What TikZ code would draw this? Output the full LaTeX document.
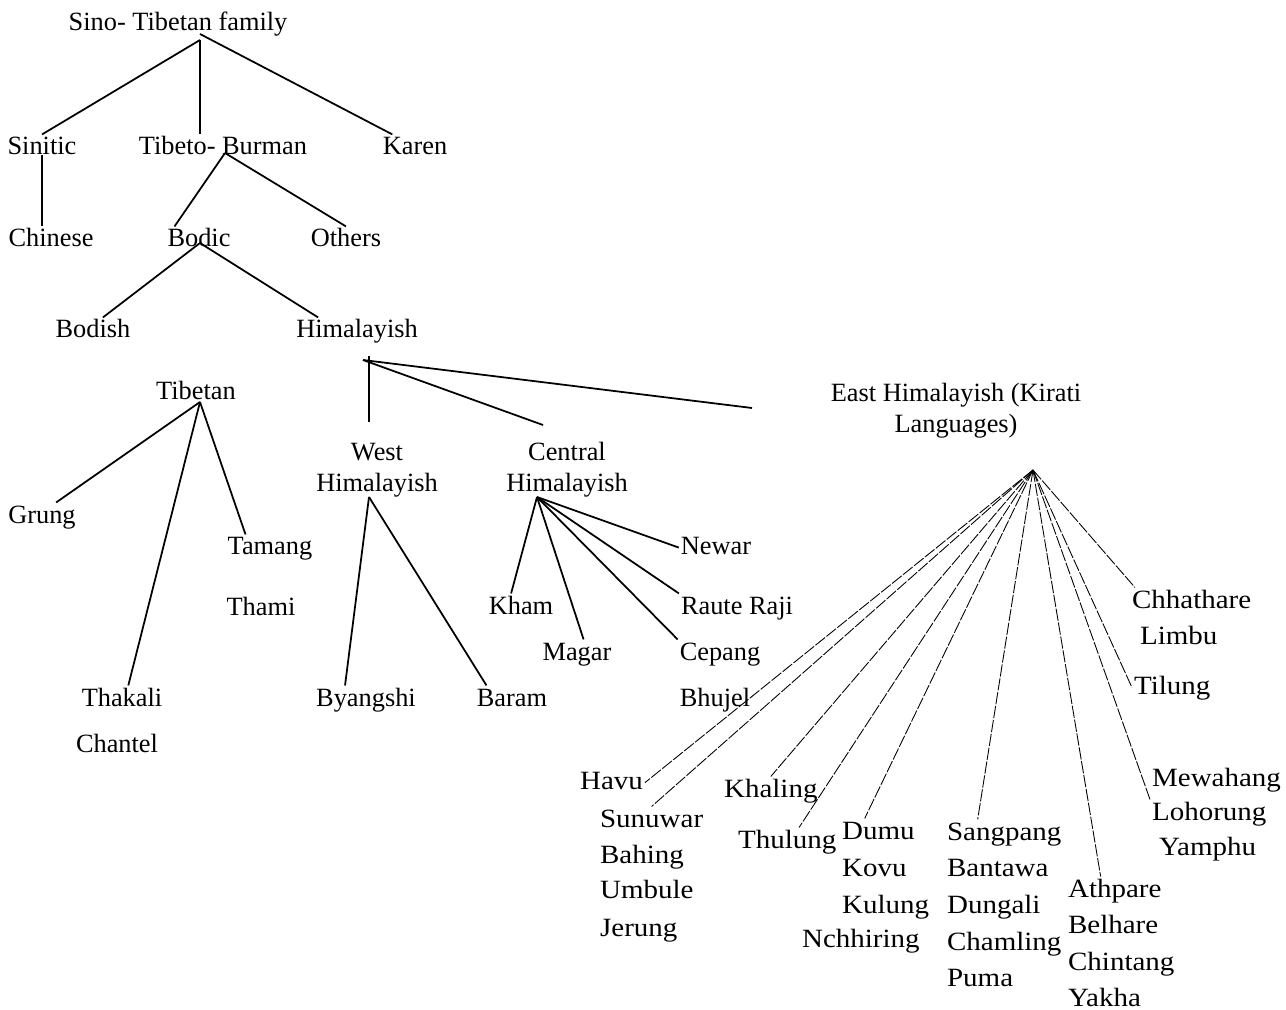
\documentclass[tikz,border=0pt]{standalone}
\usepackage{fontspec}
\setmainfont{Liberation Serif}
\newfontfamily\kiratifont[FakeStretch=1.1]{Liberation Serif}
\tikzstyle{lang}=[anchor=base, inner sep=1pt, font=\fontsize{15}{17.6}\selectfont, text height=10.5pt, text depth=3.2pt]
\tikzstyle{group}=[anchor=center, inner sep=1pt, align=center, font=\fontsize{15}{17.6}\selectfont]
\tikzstyle{kirati}=[anchor=base west, inner sep=1pt, font=\kiratifont\fontsize{15}{17.6}\selectfont, text height=10.5pt, text depth=3.2pt]
\tikzstyle{branch}=[line width=1pt]
\tikzstyle{fanline}=[line width=0.5pt, dash pattern=on 7pt off 1pt]

\begin{document}
\begin{tikzpicture}[x=0.02cm, y=-0.02cm]
		\useasboundingbox (0,0) rectangle (1286,1010);
		% upper tree
		\node(sinotibetan)[lang] at (178, 31) {Sino- Tibetan family};
		\node(sinitic)[lang] at (42, 155) {Sinitic};
		\node(tibetoburman)[lang] at (223, 155) {Tibeto- Burman};
		\node(karen)[lang] at (415, 155) {Karen};
		\node(chinese)[lang] at (51, 247) {Chinese};
		\node(bodic)[lang] at (199, 247) {Bodic};
		\node(others)[lang] at (346, 247) {Others};
		\node(bodish)[lang] at (93, 338) {Bodish};
		\node(himalayish)[lang] at (357, 338) {Himalayish};
		\node(tibetan)[lang] at (196, 399) {Tibetan};
		\node(westhim)[group] at (377, 470) {West\\Himalayish};
		\node(cenhim)[group] at (567, 470) {Central\\Himalayish};
		\node(easthim)[group] at (956, 411) {East Himalayish (Kirati\\Languages)};
		\node(grung)[lang] at (42, 523) {Grung};
		\node(tamang)[lang] at (270, 555) {Tamang};
		\node(thami)[lang] at (261, 615) {Thami};
		\node(thakali)[lang] at (122, 706) {Thakali};
		\node(chantel)[lang] at (117, 752) {Chantel};
		\node(byangshi)[lang] at (366, 706) {Byangshi};
		\node(baram)[lang] at (512, 706) {Baram};
		\node(kham)[lang] at (521, 614) {Kham};
		\node(magar)[lang] at (577, 660) {Magar};
		\node(newar)[lang] at (716, 554) {Newar};
		\node(rauteraji)[lang] at (737, 614) {Raute Raji};
		\node(cepang)[lang] at (720, 660) {Cepang};
		\node(bhujel)[lang] at (715, 706) {Bhujel};

		% forks
		\coordinate (rootfork) at (200, 40);
		\coordinate (tbfork) at (225, 153);
		\coordinate (bodicfork) at (200, 243);
		\coordinate (himfork) at (363, 360);
		\coordinate (himtop) at (369, 356);
		\coordinate (westend) at (369, 422);
		\coordinate (centralend) at (543, 425);
		\coordinate (eastend) at (752, 408);
		\coordinate (tibfork) at (200, 402);
		\coordinate (westfork) at (369, 497);
		\coordinate (cenfork) at (537, 497);
		\coordinate (kiratifork) at (1033, 470);

		\draw[branch] (rootfork) -- (sinitic.north);
		\draw[branch] (rootfork) -- (rootfork |- tibetoburman.north);
		\draw[branch] (rootfork) ++(0,-6) -- (karen.148);
		\draw[branch] (sinitic.base) -- (sinitic.base |- chinese.north);
		\draw[branch] (tbfork) -- (bodic.150);
		\draw[branch] (tbfork) -- (others.north);
		\draw[branch] (bodicfork) -- (bodish.55);
		\draw[branch] (bodicfork) -- (himalayish.160);
		\draw[branch] (himtop) -- (westend);
		\draw[branch] (himfork) -- (centralend);
		\draw[branch] (himfork) -- (eastend);
		\draw[branch] (tibfork) -- (grung.45);
		\draw[branch] (tibfork) -- (thakali.66);
		\draw[branch] (tibfork) -- (tamang.150);
		\draw[branch] (westfork) -- (byangshi.146);
		\draw[branch] (westfork) -- (baram.151);
		\draw[branch] (cenfork) -- (kham.125);
		\draw[branch] (cenfork) -- (magar.65);
		\draw[branch] (cenfork) -- (newar.west);
		\draw[branch] (cenfork) -- (rauteraji.north west);
		\draw[branch] (cenfork) -- (cepang.north west);

		% kirati languages
		\node(havu)[kirati] at (578, 789) {Havu};
		\node(sunuwar)[kirati] at (598, 827) {Sunuwar};
		\node(bahing)[kirati] at (598, 863) {Bahing};
		\node(umbule)[kirati] at (598, 898) {Umbule};
		\node(jerung)[kirati] at (598, 936) {Jerung};
		\node(khaling)[kirati] at (722, 797) {Khaling};
		\node(thulung)[kirati] at (736, 848) {Thulung};
		\node(dumu)[kirati] at (840, 839) {Dumu};
		\node(kovu)[kirati] at (840, 876) {Kovu};
		\node(kulung)[kirati] at (840, 913) {Kulung};
		\node(nchhiring)[kirati] at (800, 947) {Nchhiring};
		\node(sangpang)[kirati] at (945, 840) {Sangpang};
		\node(bantawa)[kirati] at (945, 876) {Bantawa};
		\node(dungali)[kirati] at (945, 913) {Dungali};
		\node(chamling)[kirati] at (945, 950) {Chamling};
		\node(puma)[kirati] at (945, 986) {Puma};
		\node(athpare)[kirati] at (1066, 897) {Athpare};
		\node(belhare)[kirati] at (1066, 933) {Belhare};
		\node(chintang)[kirati] at (1066, 970) {Chintang};
		\node(yakha)[kirati] at (1066, 1006) {Yakha};
		\node(mewahang)[kirati] at (1150, 786) {Mewahang};
		\node(lohorung)[kirati] at (1150, 820) {Lohorung};
		\node(yamphu)[kirati] at (1157, 855) {Yamphu};
		\node(chhathare)[kirati] at (1130, 608) {Chhathare};
		\node(limbu)[kirati] at (1138, 644) {Limbu};
		\node(tilung)[kirati] at (1132, 694) {Tilung};

		\draw[fanline] (kiratifork) -- (havu.east);
		\draw[fanline] (kiratifork) -- (sunuwar.north);
		\draw[fanline] (kiratifork) -- (khaling.north);
		\draw[fanline] (kiratifork) -- (thulung.50);
		\draw[fanline] (kiratifork) -- (dumu.134);
		\draw[fanline] (kiratifork) -- (sangpang.152);
		\draw[fanline] (kiratifork) -- (athpare.135);
		\draw[fanline] (kiratifork) -- (lohorung.north west);
		\draw[fanline] (kiratifork) -- (tilung.west);
		\draw[fanline] (kiratifork) -- (chhathare.166);
\end{tikzpicture}
\end{document}
